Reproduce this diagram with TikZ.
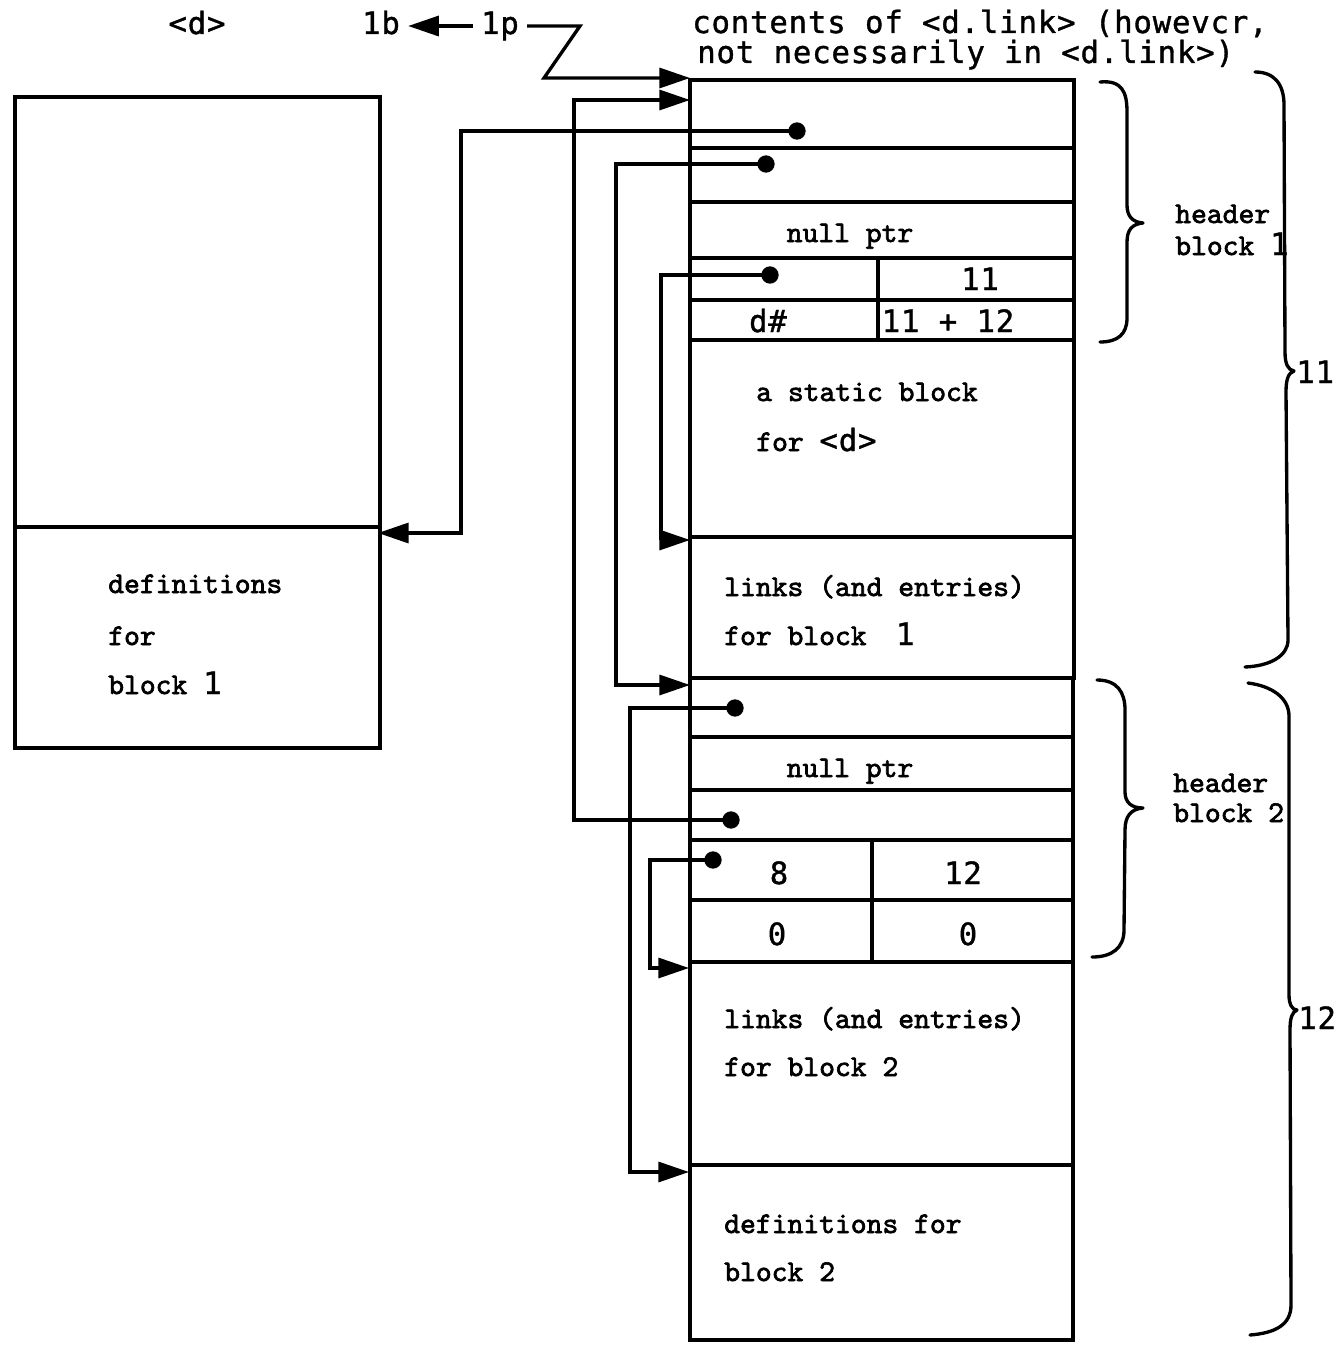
\documentclass[tikz,border=0pt]{standalone}
\usepackage{fontspec}
\usetikzlibrary{arrows.meta,fit}
\newfontfamily\ocrface{DejaVu Sans Mono}[LetterSpace=2.7,FakeBold=1.2]
\newfontfamily\twface{lmmono10-regular.otf}[FakeBold=2.2]
\newcommand\ocrf{\ocrface\fontsize{23}{28}\selectfont}
\newcommand\twf{\twface\fontsize{22.6}{27}\selectfont}
\begin{document}
\begin{tikzpicture}[x=0.75pt,y=-0.75pt,
  cell/.style={draw, line width=2.3pt, inner sep=0pt, rectangle},
  dot/.style={circle, fill=black, inner sep=0pt, minimum size=13pt},
  arr/.style={line width=2.5pt, -{Triangle[length=23pt,width=15pt]}},
  txt/.style={font=\twf, anchor=base west, inner sep=0pt},
  ctxt/.style={font=\twf, anchor=base, inner sep=0pt},
  otxt/.style={font=\ocrf, anchor=base west, inner sep=0pt},
  octxt/.style={font=\ocrf, anchor=base, inner sep=0pt},
  brace/.style={line width=2.5pt, line cap=round, line join=round}]
\useasboundingbox (0,0) rectangle (1338,1345);

% ---------- left box <d> ----------
\node[cell, fit={(15,97)(380,527)}] (L1) {};
\node[cell, fit={(15,527)(380,748)}] (L2) {};
\node[txt] (tdef) at (108,593) {definitions};
\node[txt] (tfor) at (108,645) {for};
\node[txt] (tblk) at (108,694) {block {\ocrf 1}};

% ---------- main column ----------
\node[cell, fit={(690,80)(1074,148)}] (c1) {};
\node[cell, fit={(690,148)(1074,202)}] (c2) {};
\node[cell, fit={(690,202)(1074,258)}] (c3) {};
\node[cell, fit={(690,258)(878,300)}] (c4a) {};
\node[cell, fit={(878,258)(1074,300)}] (c4b) {};
\node[cell, fit={(690,300)(878,340)}] (c5a) {};
\node[cell, fit={(878,300)(1074,340)}] (c5b) {};
\node[cell, fit={(690,340)(1074,537)}] (c6) {};
\node[cell, fit={(690,537)(1074,678)}] (c7) {};
\node[cell, fit={(690,678)(1073,737)}] (c8) {};
\node[cell, fit={(690,737)(1073,790)}] (c9) {};
\node[cell, fit={(690,790)(1073,840)}] (c10) {};
\node[cell, fit={(690,840)(872,900)}] (c11a) {};
\node[cell, fit={(872,840)(1073,900)}] (c11b) {};
\node[cell, fit={(690,900)(872,962)}] (c12a) {};
\node[cell, fit={(872,900)(1073,962)}] (c12b) {};
\node[cell, fit={(690,962)(1073,1165)}] (c13) {};
\node[cell, fit={(690,1165)(1073,1340)}] (c14) {};

% texts in column
\node[ctxt] (np1) at (850,242) {null ptr};
\node[octxt] (n11) at (980,290) {11};
\node[octxt] (dnum) at (768,332) {d\#};
\node[octxt] (nsum) at (948,332) {11 + 12};
\node[txt] (stat1) at (756,401) {a static block};
\node[txt] (stat2) at (756,451) {for {\ocrf <d>}};
\node[txt] (lk1a) at (724,596) {links (and entries)};
\node[txt] (lk1b) at (724,645) {for block\hspace{22pt}{\ocrf 1}};
\node[ctxt] (np2) at (850,777) {null ptr};
\node[octxt] (n8) at (779,884) {8};
\node[octxt] (n12) at (963,884) {12};
\node[octxt] (n0a) at (777,945) {0};
\node[octxt] (n0b) at (968,945) {0};
\node[txt] (lk2a) at (724,1028) {links (and entries)};
\node[txt] (lk2b) at (724,1076) {for block 2};
\node[txt] (df2a) at (724,1233) {definitions for};
\node[txt] (df2b) at (724,1281) {block 2};

% ---------- top labels ----------
\node[octxt] (dlab) at (197,34) {<d>};
\node[octxt, inner xsep=6pt] (b1) at (381,34) {1b};
\node[octxt, inner xsep=6pt] (p1) at (500,34) {1p};
\node[otxt] (cont1) at (692,33) {contents of <d.link> (howevcr,};
\node[otxt] (cont2) at (697,63) {not necessarily in <d.link>)};

% ---------- braces and their labels ----------
\draw[brace] (1100,82) .. controls (1122,80) and (1127,92) .. (1127,112) -- (1127,205)
  .. controls (1127,216) and (1132,222) .. (1143,223)
  .. controls (1132,224) and (1127,230) .. (1127,242) -- (1127,318)
  .. controls (1127,334) and (1118,342) .. (1100,342);
\draw[brace] (1255,72) .. controls (1275,72) and (1284,85) .. (1284,105) -- (1285,352)
  .. controls (1285,364) and (1288,370) .. (1294,371)
  .. controls (1288,373) and (1286,380) .. (1286,392) -- (1288,640)
  .. controls (1288,656) and (1270,666) .. (1245,667);
\draw[brace] (1097,680) .. controls (1117,680) and (1125,692) .. (1125,710) -- (1125,792)
  .. controls (1125,802) and (1131,808) .. (1143,808)
  .. controls (1131,809) and (1125,816) .. (1125,830) -- (1124,930)
  .. controls (1124,948) and (1112,957) .. (1092,957);
\draw[brace] (1248,683) .. controls (1272,686) and (1289,698) .. (1289,716) -- (1289,995)
  .. controls (1289,1004) and (1292,1010) .. (1297,1010)
  .. controls (1292,1012) and (1290,1018) .. (1290,1030) -- (1291,1305)
  .. controls (1291,1325) and (1275,1333) .. (1250,1335);
\node[txt] (hb1a) at (1175,223) {header};
\node[txt] (hb1b) at (1175,255) {block {\ocrf 1}};
\node[txt] (hb2a) at (1173,792) {header};
\node[txt] (hb2b) at (1173,822) {block 2};
\node[otxt] (l11) at (1296,383) {11};
\node[otxt] (l12) at (1298,1029) {12};

% ---------- pointer dots ----------
\node[dot] (d1) at (797,131) {};
\node[dot] (d2) at (766,164) {};
\node[dot] (d3) at (770,275) {};
\node[dot] (d4) at (735,708) {};
\node[dot] (d6) at (731,820) {};
\node[dot] (d5) at (713,860) {};

% corners and arrow targets
\coordinate (k1) at (461,131);  \coordinate (a1) at (378,533);
\coordinate (k2) at (616,164);  \coordinate (a2) at (690,685);
\coordinate (k3) at (661,275);  \coordinate (a3) at (690,540);
\coordinate (k4) at (630,708);  \coordinate (a4) at (689,1172);
\coordinate (k5) at (650,860);  \coordinate (a5) at (689,968);
\coordinate (k6) at (574,820);  \coordinate (a6) at (690,100);
\coordinate (z1) at (580,26);   \coordinate (z2) at (544,78);
\coordinate (a0) at (690,78);

% ---------- connectors ----------
\draw[arr] (d1.center) -- (k1) |- (a1);
\draw[arr] (d2.center) -- (k2) |- (a2);
\draw[arr] (d3.center) -- (k3) |- (a3);
\draw[arr] (d4.center) -- (k4) |- (a4);
\draw[arr] (d5.center) -- (k5) |- (a5);
\draw[arr] (d6.center) -- (k6) |- (a6);
\draw[arr] (p1.west) -- (p1.west -| b1.east);
\draw[arr] (p1.east) -- (z1) -- (z2) -- (a0);
\end{tikzpicture}
\end{document}
